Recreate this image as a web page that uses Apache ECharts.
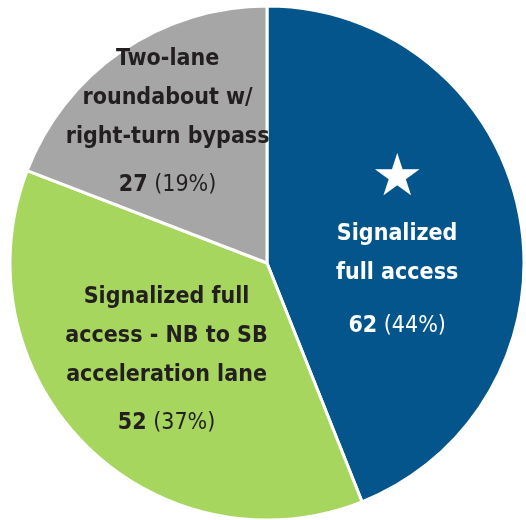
<!DOCTYPE html>
<html><head><meta charset="utf-8">
<script src="https://cdn.jsdelivr.net/npm/echarts@6/dist/echarts.min.js"></script>
<style>html,body{margin:0;padding:0;background:#fff}#c{width:526px;height:520px}</style>
</head><body><div id="c"></div>
<script>
const categories = ["Signalized\nfull access", "Signalized full\naccess - NB to SB\nacceleration lane", "Two-lane\nroundabout w/\nright-turn bypass"];
const values = [62, 52, 27];
const percents = ["44%", "37%", "19%"];
const colors = ["#03558b", "#a7d65f", "#a6a6a6"];
const textColors = ["#ffffff", "#231f20", "#231f20"];
const starred = [true, false, false];
const offsets = [[1, 7], [-8, 4], [-25, -33]];
const spacers = [14, 9, 9];

const FONT = '"Liberation Sans Narrow", "DejaVu Sans Condensed", "Noto Sans", sans-serif';
const chart = echarts.init(document.getElementById('c'), null, {renderer: 'canvas'});
const data = categories.map((name, i) => ({
  name: name,
  value: values[i],
  itemStyle: {color: colors[i]},
  label: {
    offset: offsets[i],
    formatter: () => {
      const lines = name.split('\n').map(l => '{n|' + l + '}');
      return (starred[i] ? '{s|★}\n' : '') + lines.join('\n') + '\n{g| }\n{v|' + values[i] + '}{p| (' + percents[i] + ')}';
    },
    rich: {
      s: {fontSize: 58, lineHeight: 70, color: textColors[i], fontFamily: '"DejaVu Sans", sans-serif'},
      n: {fontSize: 23, lineHeight: 39, fontWeight: 'bold', color: textColors[i], fontFamily: FONT},
      g: {fontSize: 1, lineHeight: spacers[i]},
      v: {fontSize: 23, lineHeight: 39, fontWeight: 'bold', color: textColors[i], fontFamily: FONT},
      p: {fontSize: 23, lineHeight: 39, fontWeight: 'normal', color: textColors[i], fontFamily: FONT}
    }
  }
}));
chart.setOption({
  animation: false,
  series: [{
    type: 'pie',
    center: [267, 263],
    radius: [0, 257],
    startAngle: 90,
    clockwise: true,
    itemStyle: {borderColor: '#ffffff', borderWidth: 3},
    label: {show: true, position: 'inside', align: 'center'},
    labelLine: {show: false},
    emphasis: {disabled: true},
    data: data
  }]
});
</script></body></html>
